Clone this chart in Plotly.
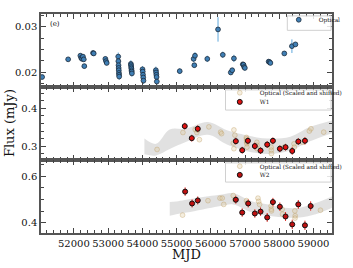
import plotly.graph_objects as go
from plotly.subplots import make_subplots

# ---------------- data ----------------
# Top panel: optical light curve
opt_mjd = [51073, 51833, 52190, 52215, 52240, 52265, 52290, 52305, 52560, 52580,
           52920, 52940, 52960,
           53296, 53300, 53304, 53308, 53312, 53316, 53320, 53324,
           53665, 53670, 53675, 53680, 53685, 53690, 53695,
           54005, 54012, 54019, 54026, 54033,
           54395, 54402, 54409, 54416, 54423,
           55092, 55498, 55518, 55538, 55897, 56211, 56350, 56583, 56625, 56675,
           56935, 56955, 56975, 56995, 57690, 57715, 57740, 58147, 58369, 58472]
opt_flux = [0.0189, 0.0228, 0.0236, 0.0231, 0.0229, 0.0234, 0.0228, 0.0213, 0.0242, 0.0241,
            0.0229, 0.0224, 0.0220,
            0.0234, 0.0224, 0.0215, 0.0209, 0.0204, 0.0198, 0.0194, 0.0190,
            0.0218, 0.0215, 0.0211, 0.0208, 0.0204, 0.0201, 0.0197,
            0.0206, 0.0201, 0.0194, 0.0188, 0.0181,
            0.0204, 0.0199, 0.0194, 0.0189, 0.0179,
            0.0202, 0.0229, 0.0215, 0.0236, 0.0229, 0.0294, 0.0238, 0.0199, 0.0204, 0.0230,
            0.0217, 0.0216, 0.0211, 0.0209, 0.0223, 0.0222, 0.0220, 0.0241, 0.0257, 0.0261]
opt_err = [0.0004, 0.0004, 0.0005, 0.0005, 0.0005, 0.0005, 0.0005, 0.0005, 0.0005, 0.0005,
           0.0005, 0.0005, 0.0005,
           0.0009, 0.0007, 0.0007, 0.0007, 0.0007, 0.0007, 0.0007, 0.0007,
           0.0008, 0.0007, 0.0007, 0.0007, 0.0007, 0.0007, 0.0007,
           0.0007, 0.0007, 0.0007, 0.0007, 0.0007,
           0.0008, 0.0007, 0.0007, 0.0007, 0.0007,
           0.0006, 0.0007, 0.0005, 0.0008, 0.0007, 0.0027, 0.0007, 0.0005, 0.0005, 0.0008,
           0.0005, 0.0005, 0.0006, 0.0006, 0.0005, 0.0005, 0.0005, 0.0005, 0.0015, 0.0005]

# Middle panel: W1
w1_mjd = [55239, 55444, 55619, 56731, 56917, 57083, 57286, 57453, 57647, 57814,
          58017, 58183, 58378, 58556, 58750]
w1_flux = [0.353, 0.321, 0.346, 0.313, 0.289, 0.314, 0.300, 0.288, 0.304, 0.314,
           0.293, 0.297, 0.287, 0.312, 0.314]
w1_err = [0.009, 0.009, 0.009, 0.009, 0.009, 0.009, 0.009, 0.009, 0.009, 0.009,
          0.009, 0.009, 0.010, 0.009, 0.010]

opt_w1_mjd = [54430, 55186, 55545, 55592, 55619, 55667, 55944, 56286, 56314,
              56656, 56675, 56675, 56703,
              57040, 57044, 57047, 57050, 57053, 57056,
              57345, 57350, 57355, 57762, 57767, 57772, 58137, 58430, 58440, 58686,
              58878, 58925, 59297]
opt_w1_flux = [0.291, 0.336, 0.344, 0.336, 0.343, 0.317, 0.351, 0.337, 0.333,
               0.308, 0.343, 0.293, 0.329,
               0.323, 0.319, 0.314, 0.310, 0.306, 0.297,
               0.310, 0.302, 0.293, 0.297, 0.289, 0.280, 0.297, 0.306, 0.297, 0.310,
               0.340, 0.346, 0.337]

band1_mjd = [54060, 54400, 54800, 55250, 55917, 56472, 57028, 57675, 58322, 58878, 59540]
band1_lo = [0.278, 0.275, 0.292, 0.310, 0.330, 0.304, 0.287, 0.279, 0.288, 0.312, 0.334]
band1_hi = [0.320, 0.306, 0.344, 0.346, 0.364, 0.342, 0.329, 0.320, 0.325, 0.350, 0.368]

# Bottom panel: W2
w2_mjd = [55250, 55453, 55619, 56731, 56917, 57092, 57286, 57453, 57647, 57814,
          58017, 58183, 58378, 58556, 58750, 58917]
w2_flux = [0.534, 0.483, 0.496, 0.499, 0.444, 0.483, 0.440, 0.448, 0.423, 0.489,
           0.469, 0.427, 0.393, 0.479, 0.389, 0.472]
w2_err = [0.018, 0.017, 0.017, 0.017, 0.018, 0.017, 0.018, 0.018, 0.019, 0.018,
          0.018, 0.019, 0.020, 0.019, 0.020, 0.020]

opt_w2_mjd = [55175, 55917, 56268, 56333, 56378, 56656, 56703, 57044, 57072,
              57378, 57397, 57425, 57760, 57767, 57772, 58085, 58095, 58455, 58465, 58460, 59203]
opt_w2_flux = [0.433, 0.495, 0.506, 0.506, 0.479, 0.517, 0.499, 0.495, 0.485,
               0.506, 0.492, 0.479, 0.472, 0.458, 0.451, 0.458, 0.437, 0.451, 0.430, 0.420, 0.454]

band2_mjd = [54800, 54990, 55545, 56286, 56650, 57212, 57675, 58139, 58600, 59064, 59540]
band2_lo = [0.430, 0.437, 0.451, 0.472, 0.479, 0.444, 0.430, 0.423, 0.423, 0.437, 0.465]
band2_hi = [0.489, 0.492, 0.506, 0.520, 0.527, 0.492, 0.479, 0.465, 0.465, 0.485, 0.513]

# ---------------- figure ----------------
FONT = "DejaVu Serif"
fig = make_subplots(rows=3, cols=1, shared_xaxes=True, vertical_spacing=0)

tan_fill = "rgba(222,200,150,0.3)"
tan_line = "rgba(185,150,90,0.45)"
band_col = "rgba(205,205,205,0.6)"

# top
fig.add_trace(go.Scatter(
    x=opt_mjd, y=opt_flux, mode="markers", name="Optical",
    error_y=dict(type="data", array=opt_err, color="#5fa8dc", thickness=1, width=0),
    marker=dict(size=4.8, color="#3f7fb5", line=dict(color="#1a2a3a", width=0.8)),
    legend="legend"), row=1, col=1)

# middle
fig.add_trace(go.Scatter(x=band1_mjd, y=band1_lo, mode="lines", line=dict(width=0, shape="spline"),
                         showlegend=False, hoverinfo="skip"), row=2, col=1)
fig.add_trace(go.Scatter(x=band1_mjd, y=band1_hi, mode="lines", line=dict(width=0, shape="spline"),
                         fill="tonexty", fillcolor=band_col, showlegend=False, hoverinfo="skip"),
              row=2, col=1)
fig.add_trace(go.Scatter(
    x=opt_w1_mjd, y=opt_w1_flux, mode="markers", name="Optical (Scaled and shifted)",
    marker=dict(size=4.8, color=tan_fill, line=dict(color=tan_line, width=0.8)),
    legend="legend2"), row=2, col=1)
fig.add_trace(go.Scatter(
    x=w1_mjd, y=w1_flux, mode="markers", name="W1",
    error_y=dict(type="data", array=w1_err, color="#e0201a", thickness=1, width=0),
    marker=dict(size=5, color="#e01010", line=dict(color="#111111", width=1)),
    legend="legend3"), row=2, col=1)

# bottom
fig.add_trace(go.Scatter(x=band2_mjd, y=band2_lo, mode="lines", line=dict(width=0, shape="spline"),
                         showlegend=False, hoverinfo="skip"), row=3, col=1)
fig.add_trace(go.Scatter(x=band2_mjd, y=band2_hi, mode="lines", line=dict(width=0, shape="spline"),
                         fill="tonexty", fillcolor=band_col, showlegend=False, hoverinfo="skip"),
              row=3, col=1)
fig.add_trace(go.Scatter(
    x=opt_w2_mjd, y=opt_w2_flux, mode="markers", name="Optical (Scaled and shifted)",
    marker=dict(size=4.8, color=tan_fill, line=dict(color=tan_line, width=0.8)),
    legend="legend4"), row=3, col=1)
fig.add_trace(go.Scatter(
    x=w2_mjd, y=w2_flux, mode="markers", name="W2",
    error_y=dict(type="data", array=w2_err, color="#e0201a", thickness=1, width=0),
    marker=dict(size=5, color="#c01010", line=dict(color="#111111", width=1)),
    legend="legend5"), row=3, col=1)

axis_common = dict(showline=True, linecolor="#555", linewidth=1.5, mirror="allticks",
                   ticks="inside", ticklen=5, tickwidth=1, tickcolor="#444",
                   showgrid=False, zeroline=False,
                   tickfont=dict(family=FONT, size=10, color="#111"))

for r in (1, 2, 3):
    fig.update_xaxes(range=[51040, 59540], dtick=1000, tick0=50000, tickformat="d", tickangle=0,
                     minor=dict(ticks="inside", ticklen=3, dtick=200, tick0=50000, tickcolor="#444"),
                     showticklabels=(r == 3), **axis_common, row=r, col=1)

fig.update_yaxes(range=[0.0167, 0.0328], tickvals=[0.02, 0.03], ticktext=["0.02", "0.03"],
                 minor=dict(ticks="inside", ticklen=3, dtick=0.0025, tick0=0, tickcolor="#444"),
                 **axis_common, row=1, col=1)
fig.update_yaxes(range=[0.263, 0.457], tickvals=[0.3, 0.4], ticktext=["0.3", "0.4"],
                 minor=dict(ticks="inside", ticklen=3, dtick=0.02, tick0=0, tickcolor="#444"),
                 **axis_common, row=2, col=1)
fig.update_yaxes(range=[0.356, 0.670], tickvals=[0.4, 0.6], ticktext=["0.4", "0.6"],
                 minor=dict(ticks="inside", ticklen=3, dtick=0.05, tick0=0, tickcolor="#444"),
                 **axis_common, row=3, col=1)

# each legend entry is its own transparent legend; a shared framed box is drawn behind
leg_common = dict(font=dict(family=FONT, size=5.8, color="#111"), bgcolor="rgba(0,0,0,0)",
                  borderwidth=0, xanchor="left", yanchor="middle", itemwidth=30)

def px_x(p):
    return (p - 41) / 306.0

def px_y(p):
    return (233 - p) / 228.0

boxes = [(300, 7, 346, 22), (235, 84, 346, 105), (235, 160, 346, 180)]
shapes = [dict(type="rect", xref="paper", yref="paper", layer="above",
               x0=px_x(a), x1=px_x(c), y0=px_y(d), y1=px_y(b),
               fillcolor="rgba(255,255,255,0.85)", line=dict(color="#d0d0d0", width=1))
          for a, b, c, d in boxes]

fig.update_layout(
    width=353, height=268,
    margin=dict(l=41, r=6, t=5, b=35),
    paper_bgcolor="white", plot_bgcolor="white",
    font=dict(family=FONT, color="#111"),
    shapes=shapes,
    legend=dict(x=px_x(291), y=px_y(11), **leg_common),
    legend2=dict(x=px_x(229), y=px_y(87), **leg_common),
    legend3=dict(x=px_x(229), y=px_y(96.5), **leg_common),
    legend4=dict(x=px_x(229), y=px_y(163.5), **leg_common),
    legend5=dict(x=px_x(229), y=px_y(172.5), **leg_common),
    annotations=[
        dict(text="(e)", x=0.025, y=0.955, xref="paper", yref="paper", showarrow=False,
             xanchor="left", yanchor="middle", font=dict(family=FONT, size=7, color="#111")),
        dict(text="Flux (mJy)", x=-0.108, y=0.5, xref="paper", yref="paper", showarrow=False,
             textangle=-90, xanchor="center", yanchor="middle",
             font=dict(family=FONT, size=13, color="#111")),
        dict(text="MJD", x=0.5, y=px_y(255), xref="paper", yref="paper", showarrow=False,
             xanchor="center", yanchor="middle", font=dict(family=FONT, size=13, color="#111")),
    ],
)

fig.write_html("out.html", config={"displayModeBar": False},
               post_script="document.body.style.margin='0px';")
